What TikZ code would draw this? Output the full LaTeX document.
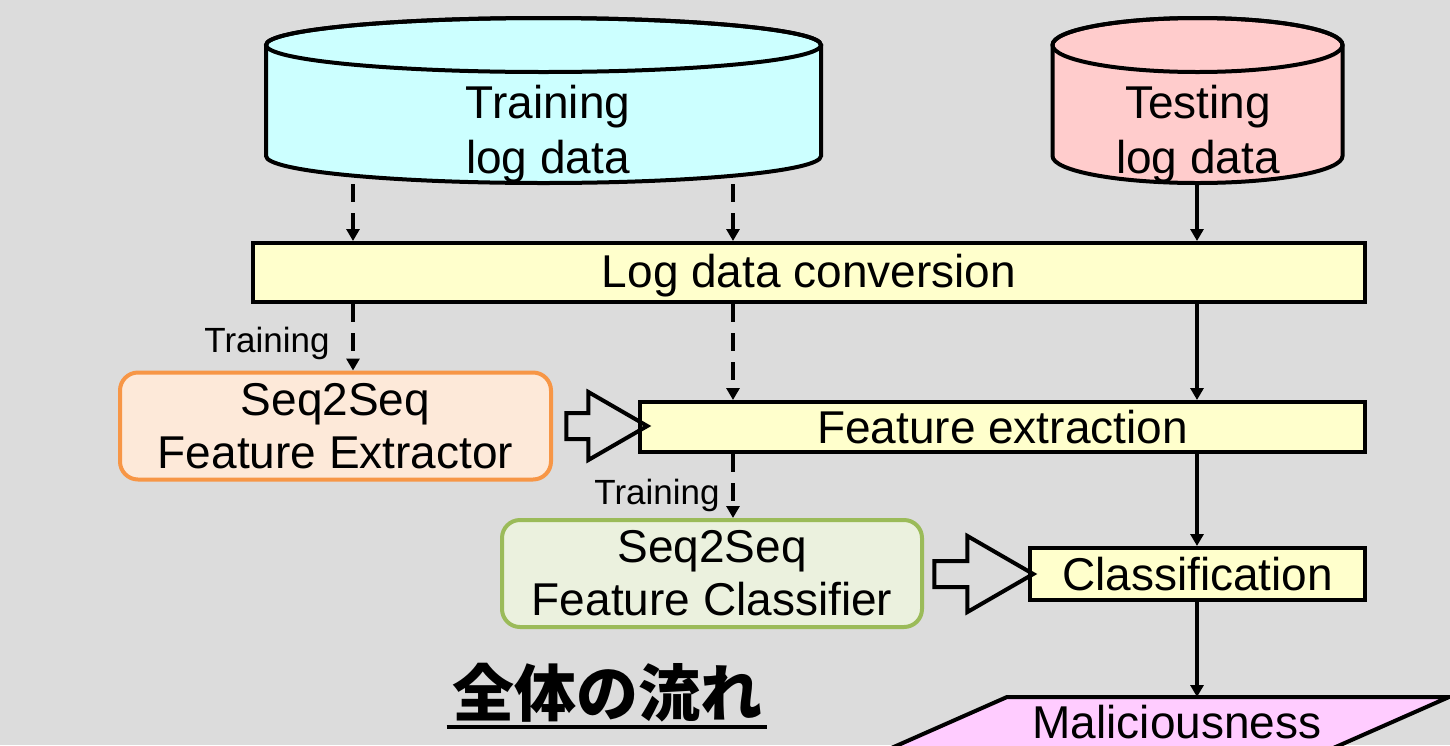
\documentclass[tikz,border=0pt]{standalone}
\usepackage{fontspec}
\setmainfont{Liberation Sans}
\newfontfamily\jpfont{Noto Sans CJK JP}
\usetikzlibrary{positioning,arrows.meta,shapes.arrows}
\definecolor{bggray}{HTML}{DCDCDC}
\definecolor{trainfill}{HTML}{CCFFFF}
\definecolor{testfill}{HTML}{FFCCCC}
\definecolor{procfill}{HTML}{FFFFCC}
\definecolor{extfill}{HTML}{FDE9D9}
\definecolor{extline}{HTML}{F79646}
\definecolor{clsfill}{HTML}{EBF1DE}
\definecolor{clsline}{HTML}{9BBB59}
\definecolor{outfill}{HTML}{FFCCFF}

\begin{document}
\begin{tikzpicture}[x=0.5pt, y=-0.5pt,
  dbline/.style={draw, line width=2pt},
  dbtxt/.style={font=\fontsize{23}{27.5}\selectfont, align=center},
  proc/.style={draw, line width=2pt, fill=procfill, minimum height=25pt,
               inner sep=0pt, font=\fontsize{23}{27.5}\selectfont},
  mdl/.style={draw, line width=2pt, rounded corners=9pt, minimum height=53.5pt,
              align=center, font=\fontsize{23}{26.5}\selectfont},
  hol/.style={single arrow, draw, line width=2pt, inner xsep=0pt, inner ysep=5.5pt,
              single arrow tip angle=60},
  tlbl/.style={font=\fontsize{17.5}{20}\selectfont},
  sarr/.style={-{Triangle[length=6pt,width=6.5pt]}, line width=1.75pt},
  darr/.style={sarr, dash pattern=on 9pt off 5.5pt}]
\useasboundingbox (0,0) rectangle (1450,745);
\clip (0,0) rectangle (1450,745);
\fill[bggray] (0,0) rectangle (1450,745);

% data sources
\path[dbline, fill=trainfill] (266,45) -- (266,156)
  arc[start angle=180, end angle=0, x radius=277.5, y radius=27] -- (821,45)
  arc[start angle=360, end angle=180, x radius=277.5, y radius=27] -- cycle;
\draw[line width=2pt] (543.5,45) ellipse[x radius=277.5, y radius=27];
\path[dbline, fill=testfill] (1052.5,45) -- (1052.5,156)
  arc[start angle=180, end angle=0, x radius=145, y radius=27] -- (1342.5,45)
  arc[start angle=360, end angle=180, x radius=145, y radius=27] -- cycle;
\draw[line width=2pt] (1197.5,45) ellipse[x radius=145, y radius=27];
\coordinate (trdb) at (543.5,184);
\coordinate (tsdb) at (1197.5,184);
\node[dbtxt] (trtxt) at (548,134) {Training\\log data};
\node[dbtxt] (tstxt) at (1198,134) {Testing\\log data};

% processing steps
\node[proc, minimum width=556pt, minimum height=29.5pt, text height=19.8pt, text depth=4.8pt] (conv) at (809,272.5) {Log data conversion};
\node[proc, minimum width=362.5pt] (fext) at (1002.5,427) {Feature extraction};
\node[proc, minimum width=167.5pt, minimum height=26pt] (cls) at (1197.5,574) {Classification};

% models
\node[mdl, fill=extfill, draw=extline, minimum width=215.5pt] (sfe) at (335.5,426) {Seq2Seq\\Feature Extractor};
\node[mdl, fill=clsfill, draw=clsline, minimum width=210pt] (sfc) at (712,573.5) {Seq2Seq\\Feature Classifier};
\node[hol, minimum height=40.5pt, single arrow head extend=10.5pt] (ha1) at (595.5,426) {};
\node[hol, minimum height=49.5pt, single arrow head extend=12.5pt] (ha2) at (972.5,574) {};

\node[tlbl] (lb1) at (267,343) {Training};
\node[tlbl] (lb2) at (657,495) {Training};

\coordinate (c1) at (353,0);
\coordinate (c2) at (733,0);
\coordinate (c3) at (1197,0);
\coordinate (outtop) at (1197,697);

% output
\draw[line width=2pt, fill=outfill] (outtop) ++(-190,0) -- ++(442,0) -- ++(-136,60)
  -- ++(-442,0) -- cycle;
\node[font=\fontsize{23}{27.5}\selectfont] (mal) at (1177,722) {Maliciousness};

\draw[darr] (trdb -| c1) -- (conv.north -| c1);
\draw[darr] (trdb -| c2) -- (conv.north -| c2);
\draw[sarr] (tsdb -| c3) -- (conv.north -| c3);
\draw[darr] (conv.south -| c1) -- (sfe.north -| c1);
\draw[darr] (conv.south -| c2) -- (fext.north -| c2);
\draw[sarr] (conv.south -| c3) -- (fext.north -| c3);
\draw[darr] (fext.south -| c2) -- (sfc.north -| c2);
\draw[sarr] (fext.south -| c3) -- (cls.north -| c3);
\draw[sarr] (cls.south -| c3) -- (outtop);

% title
\node[font=\jpfont\bfseries\fontsize{31}{31}\selectfont, inner xsep=2.5pt] (ttl) at (607,693) {全体の流れ};
\draw[line width=1.75pt] ([yshift=-5pt]ttl.base west) -- ([yshift=-5pt]ttl.base east);
\end{tikzpicture}
\end{document}
